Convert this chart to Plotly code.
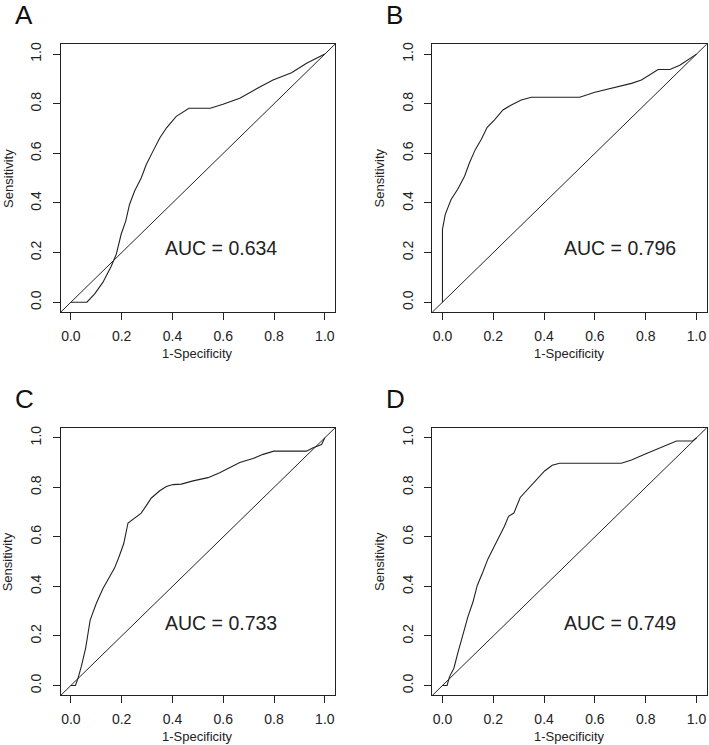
import plotly.graph_objs as go
from plotly.subplots import make_subplots

# ROC curve points (1-specificity, sensitivity)
fpr_a = [0, 0.063, 0.093, 0.126, 0.159, 0.179, 0.198, 0.216, 0.231, 0.251, 0.277, 0.297, 0.323,
         0.35, 0.376, 0.415, 0.465, 0.549, 0.599, 0.665, 0.731, 0.796, 0.869, 0.928, 1]
tpr_a = [0, 0, 0.033, 0.08, 0.145, 0.194, 0.274, 0.327, 0.394, 0.448, 0.501, 0.555, 0.608,
         0.662, 0.702, 0.749, 0.782, 0.782, 0.798, 0.822, 0.86, 0.896, 0.925, 0.963, 1]

fpr_b = [0, 0, 0.011, 0.034, 0.06, 0.087, 0.106, 0.129, 0.152, 0.176, 0.205, 0.238, 0.271, 0.31,
         0.35, 0.54, 0.6, 0.678, 0.744, 0.783, 0.816, 0.849, 0.895, 0.934, 1]
tpr_b = [0, 0.294, 0.354, 0.414, 0.455, 0.508, 0.561, 0.615, 0.655, 0.705, 0.735, 0.775, 0.795,
         0.815, 0.826, 0.826, 0.846, 0.865, 0.882, 0.896, 0.916, 0.938, 0.938, 0.955, 1]

fpr_c = [0, 0.018, 0.028, 0.041, 0.058, 0.076, 0.1, 0.126, 0.152, 0.172, 0.189, 0.208, 0.225,
         0.244, 0.277, 0.297, 0.317, 0.35, 0.376, 0.402, 0.435, 0.481, 0.54, 0.586, 0.625, 0.665,
         0.717, 0.757, 0.799, 0.928, 0.954, 0.987, 1]
tpr_c = [0, 0, 0.029, 0.076, 0.15, 0.264, 0.331, 0.391, 0.438, 0.474, 0.518, 0.572, 0.656,
         0.672, 0.696, 0.726, 0.757, 0.786, 0.803, 0.811, 0.813, 0.826, 0.839, 0.859, 0.88, 0.9,
         0.916, 0.933, 0.946, 0.946, 0.96, 0.973, 1]

fpr_d = [0, 0.018, 0.028, 0.045, 0.06, 0.08, 0.1, 0.12, 0.137, 0.159, 0.179, 0.202, 0.227, 0.244,
         0.26, 0.281, 0.306, 0.336, 0.369, 0.402, 0.432, 0.461, 0.704, 0.744, 0.796, 0.842, 0.888,
         0.921, 0.985, 1]
tpr_d = [0, 0, 0.036, 0.07, 0.13, 0.203, 0.277, 0.337, 0.404, 0.458, 0.511, 0.558, 0.605, 0.643,
         0.683, 0.696, 0.759, 0.792, 0.83, 0.866, 0.889, 0.897, 0.897, 0.91, 0.933, 0.953, 0.973,
         0.987, 0.987, 1]

letters = ['A', 'B', 'C', 'D']
auc_labels = ['AUC = 0.634', 'AUC = 0.796', 'AUC = 0.733', 'AUC = 0.749']
auc_pos = [(0.59, 0.22), (0.70, 0.22), (0.59, 0.254), (0.70, 0.254)]
tick_vals = [0, 0.2, 0.4, 0.6, 0.8, 1.0]
tick_text = ['0.0', '0.2', '0.4', '0.6', '0.8', '1.0']

curves = [(fpr_a, tpr_a), (fpr_b, tpr_b), (fpr_c, tpr_c), (fpr_d, tpr_d)]

W, H = 709, 745
FONT = 'Arial, Liberation Sans, sans-serif'
INK = '#222222'

# plot box of each panel in pixels: (left, right, top, bottom)
boxes = [(60.7, 335, 42.3, 311), (432.3, 706.7, 42.3, 311),
         (60.7, 335, 427, 695.3), (432.3, 706.7, 427, 695.3)]

fig = make_subplots(rows=2, cols=2)
annotations = []
shapes = []
for i, (fpr, tpr) in enumerate(curves):
    row, col = i // 2 + 1, i % 2 + 1
    fig.add_trace(go.Scatter(x=fpr, y=tpr, mode='lines',
                             line=dict(color=INK, width=1.1),
                             hoverinfo='none'), row=row, col=col)
    l, r, t, b = boxes[i]
    xa = 'xaxis' if i == 0 else f'xaxis{i + 1}'
    ya = 'yaxis' if i == 0 else f'yaxis{i + 1}'
    fig.layout[xa].domain = [l / W, r / W]
    fig.layout[ya].domain = [1 - b / H, 1 - t / H]
    suffix = '' if i == 0 else str(i + 1)
    # chance diagonal from corner to corner of the box
    shapes.append(dict(type='line', xref=f'x{suffix} domain', yref=f'y{suffix} domain',
                       x0=0, y0=0, x1=1, y1=1, line=dict(color=INK, width=1)))
    # panel letter
    annotations.append(dict(text=letters[i], xref='paper', yref='paper',
                            x=(l - 48) / W, y=1 - (t - 29) / H, xanchor='left', yanchor='middle',
                            showarrow=False, font=dict(size=26, family=FONT, color='#111111')))
    # AUC label
    ax, ay = auc_pos[i]
    annotations.append(dict(text=auc_labels[i], xref=f'x{suffix}', yref=f'y{suffix}',
                            x=ax, y=ay, xanchor='center', yanchor='middle', showarrow=False,
                            font=dict(size=19.5, family=FONT, color=INK)))
    # axis titles
    annotations.append(dict(text='1-Specificity', xref='paper', yref='paper',
                            x=(l + r) / 2 / W, y=1 - (b + 41) / H, xanchor='center', yanchor='middle',
                            showarrow=False, font=dict(size=13, family=FONT, color=INK)))
    annotations.append(dict(text='Sensitivity', xref='paper', yref='paper', textangle=-90,
                            x=(l - 53) / W, y=1 - (t + b) / 2 / H, xanchor='center', yanchor='middle',
                            showarrow=False, font=dict(size=13, family=FONT, color=INK)))

axis_style = dict(range=[-0.04, 1.04], showgrid=False, zeroline=False,
                  showline=True, mirror=True, linecolor=INK, linewidth=1,
                  ticks='outside', ticklen=7, tickcolor=INK, tickwidth=1,
                  tickvals=tick_vals, ticktext=tick_text,
                  tickfont=dict(size=14, family=FONT, color=INK))
fig.update_xaxes(**axis_style, ticklabelstandoff=4)
fig.update_yaxes(**axis_style, tickangle=-90, ticklabelstandoff=6)

fig.update_layout(
    width=W, height=H,
    showlegend=False,
    plot_bgcolor='white', paper_bgcolor='white',
    margin=dict(l=0, r=0, t=0, b=0),
    annotations=annotations,
    shapes=shapes,
)
# drop the browser's default 8px body margin so the figure sits at the page corner
fig.write_html("out.html", config={'displayModeBar': False},
               post_script="document.body.style.margin='0';")
